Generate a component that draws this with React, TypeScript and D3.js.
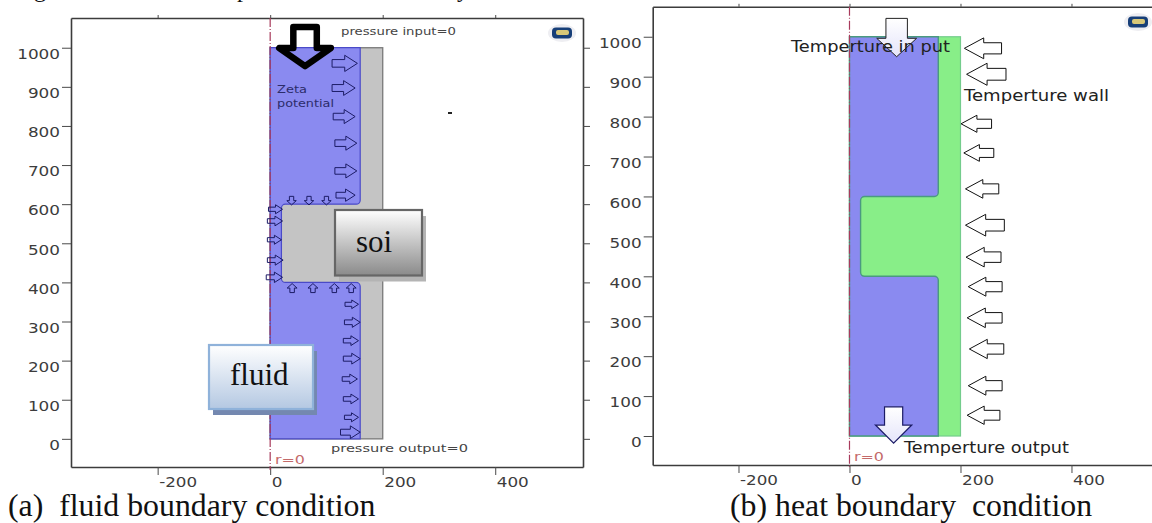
import React, { useEffect, useRef } from "react";
import * as d3 from "d3";

const WIDTH = 1152;
const HEIGHT = 523;

const xTicks = [-200, 0, 200, 400];
const yTicks = [0, 100, 200, 300, 400, 500, 600, 700, 800, 900, 1000];

// domain outline, r and z in model units
const fluidR = [0, 160, 160, 20, 20, 160, 160, 0];
const fluidZ = [0, 0, 400, 400, 600, 600, 1000, 1000];
const wallR = [0, 200, 200, 0];
const wallZ = [0, 0, 1000, 1000];

// left panel boundary arrows: [tail r, tip r, z]
const upperWallArrows = [
  [110, 155, 960],
  [110, 151, 897],
  [112, 151, 824],
  [115, 154, 756],
  [115, 154, 685],
  [117, 151, 623],
];
const notchWallArrows = [
  [-3, 22, 587],
  [-5, 22, 557],
  [-5, 20, 509],
  [-5, 23, 457],
  [-7, 22, 413],
];
const lowerWallArrows = [
  [133, 157, 344],
  [132, 160, 298],
  [130, 157, 251],
  [130, 160, 205],
  [128, 155, 153],
  [130, 157, 102],
  [132, 157, 55],
  [125, 160, 17],
];
const notchTopR = [38, 69, 100];
const notchBottomR = [39, 76, 114, 144];

// right panel heat arrows: [tail r, tip r, z]
const heatWallArrows = [
  [274, 207, 971],
  [282, 211, 906],
  [256, 201, 782],
  [260, 206, 709],
  [269, 209, 619],
  [279, 209, 528],
  [273, 210, 448],
  [275, 214, 374],
  [275, 212, 296],
  [278, 216, 218],
  [275, 214, 126],
  [271, 212, 52],
];

const COLORS = {
  fluid: "#8a8af0",
  fluidEdge: "#4a4ac8",
  soil: "#c4c4c4",
  soilEdge: "#808080",
  solid: "#88ee88",
  solidEdge: "#4a9a80",
  solidOuter: "#74cc8c",
  axis: "#3c3c3c",
  tick: "#4a4a4a",
  symmetry: "#a83a5c",
  arrow: "#1c1c66",
};

const SANS = "'DejaVu Sans', sans-serif";
const SERIF = "'Liberation Serif', serif";

type Sel = d3.Selection<any, any, any, any>;

// squeezes or stretches a label to the width it has in the picture
function fitted(
  root: Sel,
  label: string,
  x: number,
  y: number,
  width: number,
  size: number,
  fill: string
) {
  return root
    .append("text")
    .attr("x", x)
    .attr("y", y)
    .attr("font-family", SANS)
    .attr("font-size", size)
    .attr("fill", fill)
    .attr("textLength", width)
    .attr("lengthAdjust", "spacingAndGlyphs")
    .text(label);
}

function serif(root: Sel, label: string, x: number, y: number, size: number) {
  return root
    .append("text")
    .attr("x", x)
    .attr("y", y)
    .attr("font-family", SERIF)
    .attr("font-size", size)
    .attr("fill", "#111")
    .style("white-space", "pre")
    .text(label);
}

function blockArrow(
  x0: number,
  y0: number,
  x1: number,
  y1: number,
  head = 0.3,
  shaft = 0.15,
  headLen = 0.5
) {
  const len = Math.hypot(x1 - x0, y1 - y0);
  const ux = (x1 - x0) / len;
  const uy = (y1 - y0) / len;
  const at = (along: number, side: number): [number, number] => [
    x0 + ux * along * len - uy * side * len,
    y0 + uy * along * len + ux * side * len,
  ];
  const neck = 1 - headLen;
  return (
    d3.line()([
      at(0, -shaft),
      at(neck, -shaft),
      at(neck, -head),
      at(1, 0),
      at(neck, head),
      at(neck, shaft),
      at(0, shaft),
    ]) + "Z"
  );
}

function outline(x: d3.ScaleLinear<number, number>, y: d3.ScaleLinear<number, number>, corner: number) {
  const pts = fluidR.map((r, i) => [x(r), y(fluidZ[i])]);
  const path = d3.path();
  path.moveTo(pts[0][0], pts[0][1]);
  for (let i = 1; i < pts.length; i++) {
    const next = pts[i + 1];
    if (next && i >= 2 && i <= 5) {
      path.arcTo(pts[i][0], pts[i][1], next[0], next[1], corner);
    } else {
      path.lineTo(pts[i][0], pts[i][1]);
    }
  }
  path.closePath();
  return path.toString();
}

function drawPanel(
  root: Sel,
  x: d3.ScaleLinear<number, number>,
  y: d3.ScaleLinear<number, number>,
  withRightAxis: boolean
) {
  const [left, right] = x.range();
  const [bottom, top] = y.range();

  const yAxis = root
    .append("g")
    .attr("transform", `translate(${left},0)`)
    .call(d3.axisLeft(y).tickValues(yTicks).tickSize(9).tickSizeOuter(0).tickPadding(2).tickFormat((d) => String(d)));
  const xAxis = root
    .append("g")
    .attr("transform", `translate(0,${bottom})`)
    .call(d3.axisBottom(x).tickValues(xTicks).tickSize(8).tickSizeOuter(0).tickPadding(1).tickFormat((d) => String(d)));
  root
    .append("g")
    .attr("transform", `translate(0,${top})`)
    .call(d3.axisTop(x).tickValues(xTicks).tickSize(3).tickSizeOuter(0).tickFormat(() => ""));
  if (withRightAxis) {
    root
      .append("g")
      .attr("transform", `translate(${right},0)`)
      .call(d3.axisRight(y).tickValues(yTicks).tickSize(7).tickSizeOuter(0).tickFormat(() => ""));
  }

  root.selectAll(".domain").attr("stroke", COLORS.axis).attr("stroke-width", 1.6);
  root.selectAll(".tick line").attr("stroke", COLORS.tick).attr("stroke-width", 1);

  const styleTicks = (axis: Sel) =>
    axis
      .selectAll("text")
      .attr("font-family", SANS)
      .attr("font-size", 13.5)
      .attr("fill", COLORS.axis)
      .attr("lengthAdjust", "spacingAndGlyphs")
      .attr("textLength", (d: any) => (d < 0 ? 38 : String(d).length * 10.7));
  styleTicks(yAxis).attr("dy", "0.8em");
  styleTicks(xAxis)
    .attr("text-anchor", "start")
    .attr("dx", 1)
    .attr("dy", "0.8em");
}

function drawSymmetry(root: Sel, x: d3.ScaleLinear<number, number>, y: d3.ScaleLinear<number, number>) {
  const [bottom, top] = y.range();
  root
    .append("line")
    .attr("x1", x(0))
    .attr("x2", x(0))
    .attr("y1", top)
    .attr("y2", bottom + 3)
    .attr("stroke", COLORS.symmetry)
    .attr("stroke-width", 1.2)
    .attr("stroke-dasharray", "9 2 1 2");
}

function drawIcon(root: Sel, cx: number, cy: number) {
  root
    .append("ellipse")
    .attr("cx", cx)
    .attr("cy", cy)
    .attr("rx", 14)
    .attr("ry", 9)
    .attr("fill", "#eeeef2");
  root
    .append("rect")
    .attr("x", cx - 10)
    .attr("y", cy - 5.5)
    .attr("width", 20)
    .attr("height", 11)
    .attr("rx", 4)
    .attr("fill", "#173f78");
  root
    .append("rect")
    .attr("x", cx - 6)
    .attr("y", cy - 3)
    .attr("width", 13)
    .attr("height", 5)
    .attr("rx", 2)
    .attr("fill", "#d8c878");
}

function drawCallout(
  root: Sel,
  box: { x: number; y: number; w: number; h: number; dx: number; dy: number },
  gradient: string,
  stroke: string,
  shadow: string
) {
  root
    .append("rect")
    .attr("x", box.x + box.dx)
    .attr("y", box.y + box.dy)
    .attr("width", box.w)
    .attr("height", box.h)
    .attr("fill", shadow);
  root
    .append("rect")
    .attr("x", box.x)
    .attr("y", box.y)
    .attr("width", box.w)
    .attr("height", box.h)
    .attr("fill", `url(#${gradient})`)
    .attr("stroke", stroke)
    .attr("stroke-width", 2.2);
}

function linearGradient(defs: Sel, id: string, stops: [number, string][]) {
  const g = defs.append("linearGradient").attr("id", id).attr("x1", 0).attr("y1", 0).attr("x2", 0).attr("y2", 1);
  stops.forEach(([offset, color]) => g.append("stop").attr("offset", offset).attr("stop-color", color));
}

export default function App() {
  const ref = useRef<SVGSVGElement>(null);

  useEffect(() => {
    const svg = d3.select(ref.current);
    svg.selectAll("*").remove();

    const defs = svg.append("defs");
    linearGradient(defs, "fluidBox", [[0, "#ffffff"], [1, "#b4c8e2"]]);
    linearGradient(defs, "soilBox", [[0, "#ffffff"], [1, "#8a8a8a"]]);
    linearGradient(defs, "whiteArrow", [[0, "#ffffff"], [1, "#e4e4fa"]]);

    // (a) fluid boundary condition
    const xa = d3.scaleLinear().domain([-354, 556]).range([71, 583]);
    const ya = d3.scaleLinear().domain([-72, 1076]).range([467, 18]);
    const a = svg.append("g");
    drawPanel(a, xa, ya, true);

    a.append("rect")
      .attr("x", xa(wallR[0]))
      .attr("y", ya(wallZ[2]))
      .attr("width", xa(wallR[1]) - xa(wallR[0]))
      .attr("height", ya(wallZ[0]) - ya(wallZ[2]))
      .attr("fill", COLORS.soil)
      .attr("stroke", COLORS.soilEdge)
      .attr("stroke-width", 1.4);
    a.append("path")
      .attr("d", outline(xa, ya, 4))
      .attr("fill", COLORS.fluid)
      .attr("stroke", COLORS.fluidEdge)
      .attr("stroke-width", 1.2);
    drawSymmetry(a, xa, ya);

    const thin = a.append("g").attr("fill", "none").attr("stroke", COLORS.arrow).attr("stroke-width", 1);
    [...upperWallArrows, ...notchWallArrows, ...lowerWallArrows].forEach(([tail, tip, z]) => {
      thin.append("path").attr("d", blockArrow(xa(tail), ya(z), xa(tip), ya(z), 0.32, 0.15, 0.5));
    });
    notchTopR.forEach((r) => {
      thin.append("path").attr("d", blockArrow(xa(r), ya(620), xa(r), ya(598), 0.55, 0.25, 0.5));
    });
    notchBottomR.forEach((r) => {
      thin.append("path").attr("d", blockArrow(xa(r), ya(374), xa(r), ya(397), 0.55, 0.25, 0.5));
    });

    // big inlet arrow
    a.append("path")
      .attr("d", blockArrow(xa(62), ya(1053), xa(62), ya(953), 0.66, 0.3, 0.46))
      .attr("fill", "none")
      .attr("stroke", "#000")
      .attr("stroke-width", 6.5)
      .attr("stroke-linejoin", "round");

    fitted(a, "pressure input=0", 341, 35, 115, 11, "#444");
    fitted(a, "pressure output=0", 331, 451.5, 137, 11, "#444");
    fitted(a, "Zeta", 277, 93, 30, 10.5, "#2c2c6a");
    fitted(a, "potential", 277, 107, 57, 10.5, "#2c2c6a");
    fitted(a, "r=0", 275, 464, 30, 12.5, "#c46a6a");
    a.append("rect").attr("x", 448).attr("y", 112).attr("width", 4).attr("height", 2).attr("fill", "#222");
    drawIcon(a, 562, 33);

    drawCallout(a, { x: 335, y: 210, w: 87, h: 65.5, dx: 4, dy: 6 }, "soilBox", "#666", "#b4b4b4");
    serif(a, "soi", 356, 252, 31);
    drawCallout(a, { x: 209, y: 345, w: 104, h: 64, dx: 4, dy: 6 }, "fluidBox", "#8fb2da", "#7488b0");
    serif(a, "fluid", 230, 385, 31);
    serif(a, "(a)  fluid boundary condition", 8, 516, 31.8);

    // (b) heat boundary condition
    const xb = d3.scaleLinear().domain([-354.6, 559.5]).range([652.7, 1160]);
    const yb = d3.scaleLinear().domain([-72.6, 1075]).range([465, 6.8]);
    const b = svg.append("g");
    drawPanel(b, xb, yb, false);

    b.append("rect")
      .attr("x", xb(wallR[0]))
      .attr("y", yb(wallZ[2]))
      .attr("width", xb(wallR[1]) - xb(wallR[0]))
      .attr("height", yb(wallZ[0]) - yb(wallZ[2]))
      .attr("fill", COLORS.solid)
      .attr("stroke", COLORS.solidOuter)
      .attr("stroke-width", 1.2);
    b.append("path")
      .attr("d", outline(xb, yb, 4))
      .attr("fill", COLORS.fluid)
      .attr("stroke", COLORS.solidEdge)
      .attr("stroke-width", 1.4);
    drawSymmetry(b, xb, yb);

    heatWallArrows.forEach(([tail, tip, z]) => {
      b.append("path")
        .attr("d", blockArrow(xb(tail), yb(z), xb(tip), yb(z), 0.28, 0.15, 0.52))
        .attr("fill", "#fff")
        .attr("stroke", "#111")
        .attr("stroke-width", 1);
    });
    b.append("path")
      .attr("d", blockArrow(xb(85), yb(1046), xb(85), yb(950), 0.52, 0.28, 0.48))
      .attr("fill", "url(#whiteArrow)")
      .attr("stroke", "#222")
      .attr("stroke-width", 1);
    b.append("path")
      .attr("d", blockArrow(xb(79.5), yb(73), xb(79.5), yb(-18), 0.5, 0.25, 0.5))
      .attr("fill", "url(#whiteArrow)")
      .attr("stroke", COLORS.arrow)
      .attr("stroke-width", 1.2);

    fitted(b, "Temperture in put", 791, 51.5, 159, 15, "#222");
    fitted(b, "Temperture wall", 964, 100.5, 145, 15, "#222");
    fitted(b, "Temperture output", 904, 452.5, 165, 15, "#222");
    fitted(b, "r=0", 854, 461, 30, 12.5, "#c46a6a");
    drawIcon(b, 1138, 22);
    serif(b, "(b) heat boundary  condition", 730, 516, 31.8);

    // the line above the figures is cut off by the image edge, only descenders show
    [["g", 34], ["p", 237], ["y", 457]].forEach(([ch, px]) => {
      serif(svg, ch as string, px as number, -3, 24);
    });
  }, []);

  return (
    <svg
      ref={ref}
      width={WIDTH}
      height={HEIGHT}
      viewBox={`0 0 ${WIDTH} ${HEIGHT}`}
      style={{ position: "fixed", left: 0, top: 0, background: "#fff", display: "block" }}
    />
  );
}
